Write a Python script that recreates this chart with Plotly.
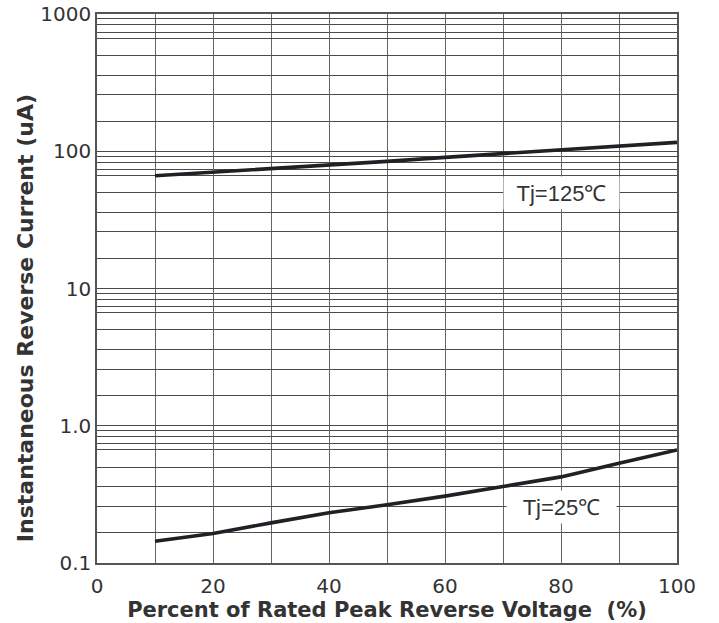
import numpy as np
import plotly.graph_objects as go

# ---- data ----
voltage_pct = [10, 20, 30, 40, 50, 60, 70, 80, 90, 100]
ir_tj125 = [66.3, 70.2, 74.2, 79.7, 84.4, 90.3, 95.9, 101.5, 108.6, 116.1]
ir_tj25 = [0.144, 0.164, 0.196, 0.232, 0.266, 0.307, 0.361, 0.424, 0.534, 0.667]

y_tick_vals = [0.1, 1, 10, 100, 1000]
y_tick_text = ["0.1", "1.0", "10", "100", "1000"]
x_tick_vals = [0, 20, 40, 60, 80, 100]
x_tick_text = ["0", "20", "40", "60", "80", "100"]

# gridline multipliers within each decade as drawn on the original sheet
grid_multipliers = [1.66, 2.59, 3.58, 5.0, 6.68, 7.38, 8.35, 9.2]
decades = [0.1, 1, 10, 100]

label_125 = "Tj=125℃"
label_25 = "Tj=25℃"

minor_vals = [d * m for d in decades for m in grid_multipliers]

LINE = "#1e2227"
GRID = "#4a4a4a"
TEXT = "#333333"

fig = go.Figure()
fig.add_trace(go.Scatter(x=voltage_pct, y=ir_tj125, mode="lines",
                         line=dict(color=LINE, width=3.6), showlegend=False))
fig.add_trace(go.Scatter(x=voltage_pct, y=ir_tj25, mode="lines",
                         line=dict(color=LINE, width=3.6), showlegend=False))

fig.update_xaxes(
    range=[0, 100], tickvals=x_tick_vals, ticktext=x_tick_text,
    showgrid=True, gridcolor="#666666", gridwidth=1.2,
    minor=dict(dtick=10, showgrid=True, gridcolor="#666666", gridwidth=1.2),
    showline=True, linecolor="#555555", linewidth=1.5, mirror=True,
    ticks="", zeroline=False, automargin=False, ticklabelstandoff=4,
    ticklabeloverflow="allow",
    tickfont=dict(family="DejaVu Sans", size=20, color=TEXT),
    title=dict(text="Percent of Rated Peak Reverse Voltage  (%)",
               font=dict(family="DejaVu Sans", size=21, color=TEXT, weight="bold"),
               standoff=4),
)
fig.update_yaxes(
    type="log", range=[-1, 3], tickvals=y_tick_vals, ticktext=y_tick_text,
    showgrid=True, gridcolor=GRID, gridwidth=1.2,
    minor=dict(tickvals=minor_vals, showgrid=True, gridcolor=GRID, gridwidth=1.1),
    showline=True, linecolor="#555555", linewidth=1.5, mirror=True,
    ticks="", zeroline=False, automargin=False, ticklabeloverflow="allow",
    tickfont=dict(family="DejaVu Sans", size=20, color=TEXT),
)

ann_font = dict(family="Liberation Sans, Arial", size=22, color=TEXT)
fig.add_annotation(x=80, y=np.log10(50), text=label_125, showarrow=False,
                   bgcolor="white", borderpad=0, width=115, height=32,
                   font=ann_font)
fig.add_annotation(x=80, y=np.log10(0.256), text=label_25, showarrow=False,
                   bgcolor="white", borderpad=0, width=109, height=32,
                   font=ann_font)
fig.add_annotation(xref="paper", yref="paper",
                   x=(25 - 97) / 580, y=(562.7 - 318) / 548.7,
                   xanchor="center", yanchor="middle", textangle=-90,
                   text="Instantaneous Reverse Current (uA)", showarrow=False,
                   font=dict(family="DejaVu Sans", size=22, color=TEXT, weight="bold"))

fig.update_layout(
    width=719, height=623,
    margin=dict(l=97, r=42, t=14, b=60, pad=0),
    paper_bgcolor="white", plot_bgcolor="white",
)

fig.write_html("out.html",
               config={"displayModeBar": False},
               post_script="document.body.style.margin='0';")
